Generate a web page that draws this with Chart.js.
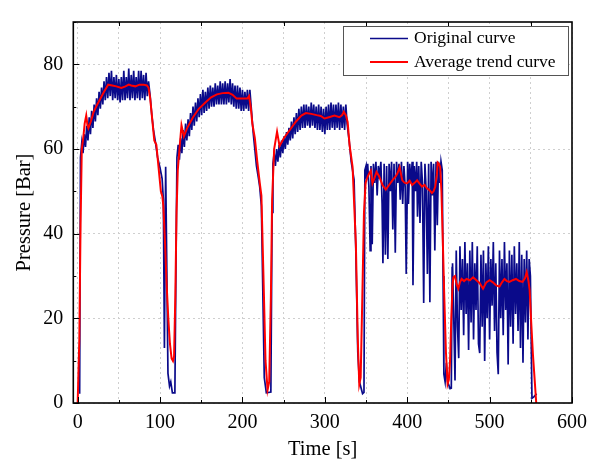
<!DOCTYPE html>
<html><head><meta charset="utf-8">
<script src="https://cdn.jsdelivr.net/npm/chart.js@4.4.0/dist/chart.umd.min.js"></script>
<style>html,body{margin:0;padding:0;background:#fff;}#wrap{width:595px;height:466px;}</style>
</head><body><div id="wrap"><canvas id="c" width="595" height="466"></canvas></div>
<script>
// ---- data (time [s], pressure [Bar]) ----
const origCycle1 = [[2.4,2.2],[3.4,58],[5,61.5],[6.5,59],[8,63.5],[9.5,60.5],[11,65.5],[12.5,62],[14,67.5],[15.5,63.5],[17,69],[18.5,65],[20,70.5],[21.5,66.5],[23,72],[24.5,68],[26,73.5],[27.5,69.5],[29,74.5],[30.5,70.5],[32,76],[33.5,71.5],[35,77],[36.5,72],[38,78],[39.5,72.5],[41,78.5],[42.5,71.5],[44,77],[45.5,72],[47,77.5],[48.5,71.5],[50,76.5],[51.5,71],[53,77],[54.5,71.5],[56,78.5],[57.5,71.5],[59,77],[60.5,72],[62,79],[63.5,71.5],[65,77.5],[66.5,72],[68,78.5],[69.5,71.5],[71,77],[72.5,72],[74,78.5],[75.5,71.5],[77,78.5],[78.5,72],[80,77.5],[81.5,71.5],[83,78],[84.5,72.5],[86,76],[88,72.5],[90,68],[92,64.5],[94.5,61.5],[97,58],[100,55.5],[102.5,53],[104,48],[105.3,13],[106.8,55.8],[108,35],[109.6,7],[111.5,4],[113,5],[115,2.4],[118,2.4],[119.2,30]];
const origCycle2 = [[120.5,58],[122,61],[123.5,57.5],[125,62.5],[126.5,59],[128,64.5],[129.5,60.5],[131,66],[132.5,62],[134,67],[135.5,63],[137,68.5],[138.5,64.5],[140,70],[141.5,65.5],[143,71],[144.5,66.5],[146,72],[147.5,67.5],[149,73],[150.5,68],[152,74],[153.5,68.5],[155,73.5],[156.5,69],[158,74.5],[159.5,69.5],[161,75],[162.5,70],[164,74.5],[165.5,70],[167,75.5],[168.5,70.5],[170,75],[171.5,70.5],[173,76],[174.5,70.5],[176,75.5],[177.5,70.5],[179,76],[180.5,70.5],[182,75.5],[183.5,71],[185,76.5],[186.5,70.5],[188,75.5],[189.5,70],[191,75],[192.5,69.5],[194,75],[195.5,69.5],[197,74.5],[198.5,69],[200,74],[201.5,69],[203,73.5],[204.5,69.5],[206,74],[207.5,69],[209,74],[211,69],[213,64],[215,60],[217,56],[219.5,53],[221,51],[223,46.5],[226.5,6],[229,2.4],[234.5,2.6],[236,45]];
const origCycle3 = [[237,56.5],[238.5,59],[240,56],[241.5,60],[243,57],[244.5,61],[246,58],[247.5,62],[249,59],[250.5,63],[252,60],[253.5,64],[255,61],[256.5,65],[258,62],[259.5,66.5],[261,62.5],[262.5,67.5],[264,63.5],[265.5,68.5],[267,64],[268.5,69.5],[270,64.5],[271.5,70],[273,65],[274.5,70.5],[276,65],[277.5,70.5],[279,65.5],[280.5,70],[282,65],[283.5,71],[285,65.5],[286.5,70.5],[288,65],[289.5,70],[291,64.5],[292.5,70.5],[294,64.5],[295.5,70],[297,64],[298.5,69.5],[300,63.5],[301.5,70],[303,64.5],[304.5,70.5],[306,64.5],[307.5,71],[309,65],[310.5,70.5],[312,64.5],[313.5,70.5],[315,65],[316.5,71],[318,64.5],[319.5,70.5],[321,65],[322.5,70],[324,64.5],[325.5,70.5],[327,66],[329.5,62],[332,57],[335.5,52.7],[337.5,37],[340,12],[342,5],[345.8,2.2],[347.5,2.5]];
const origCycle4 = [[348.6,55],[350,56],[350.5,53],[352,56.5],[353.5,51],[355,36],[356,56],[357.5,37.5],[359,56.5],[360.5,52],[362,57],[363.5,49],[365,56],[366.5,53],[368,57],[369.5,47],[370.5,33],[372,56.5],[373.5,35],[375,56],[376.5,34],[378,56.5],[379.5,50],[381,57],[382.5,41],[384,56.5],[385.5,35.5],[387,57],[388.5,52],[390,56.5],[391.5,48],[393,57],[394.5,47],[396,56],[397.5,51],[398.8,30.5],[400.5,57],[401.5,47],[403,56.5],[404.5,52],[406,57],[407,27.8],[408.5,56],[410,50],[411.5,57],[412.5,44],[414,56],[415.5,42.5],[417,57],[418.5,52],[420,23.6],[421.5,56.5],[423,50],[424.5,30.5],[426,56.5],[427.5,23.8],[429,57],[430.5,49],[432,56.5],[433.5,36],[435,57],[436.5,42],[438,57],[439.5,52],[441,57],[442.5,55],[443.5,30],[444.5,6.8],[446,5],[447.5,9.5],[449,5],[452,3.4],[453.5,3.5]];
const origCycle5 = [[454.5,32],[455,33],[456.5,20],[458,5.3],[459.5,36],[461,18],[462.5,10.6],[464,37],[465.5,22],[467,34],[468.5,16],[470,38],[471.5,21],[473,33],[474.5,12.5],[476,36],[477.5,19],[479,38],[480.5,15],[482,33],[483.5,22],[485,37],[486.5,14],[488,11.8],[489.5,35],[491,18],[492.5,36],[494,9.9],[495.5,33],[497,20],[498.5,37],[500,15],[501.5,34],[503,23],[504.5,38],[506,17],[507.5,33],[509,12],[510.5,6.8],[512,36],[513.5,20],[515,34],[516.5,16],[518,38],[519.5,22],[521,33],[522.5,9.1],[524,36],[525.5,18],[527,35],[528.5,14],[530,37],[531.5,21],[533,33],[534.5,17],[536,38],[537.5,13],[539,35],[540.5,9.5],[542,34],[543.5,19],[545,36],[546.5,15],[548,34],[549.5,30],[551.4,1.1],[554,1.5],[557,2.2]];

const trendCycle1 = [[0,0],[2,15],[3.5,42],[5,60],[7,63],[8.5,66],[10.4,67.9],[12,65.5],[13,64.9],[16,66.5],[19.3,68.7],[23,70.2],[27,71.7],[32,73.5],[37,75.2],[42,75],[47,74.8],[53,74.4],[58,74.8],[62,75.2],[65,75],[70,74.8],[75,75.2],[80,75.2],[84,75],[86,74.5],[88,72],[90.5,67],[93,62],[95.5,61],[98,56],[101,50],[102.8,48.8],[104,46.5],[106,38],[108,28],[110,20],[112,14],[114,10.5],[115.7,9.9],[117,11],[118.5,25],[120,45],[121.5,55]];
const trendCycle2 = [[123.7,60.3],[126,65.6],[128.9,63],[133,65],[140,67.5],[147,69.5],[155,71],[162,72.2],[169,72.9],[176,73.2],[183,73.3],[188,72.8],[193,71.9],[200,71.9],[206,71.9],[208,72.5],[210,70],[212,66],[215,62.6],[218,57],[221,52],[223,49],[225.5,30],[228,10],[230.5,3.1],[232.5,5],[234.5,25],[236,48]];
const trendCycle3 = [[238.5,60],[242,64.1],[245,60.7],[250,62.5],[259,64.9],[265,66.5],[271.5,67.9],[277,68.5],[283.5,68.3],[290,68],[295,67.8],[299.6,67.2],[305,67.5],[311.7,67.9],[317.7,67.5],[321,68],[323,68.8],[325.5,68],[327.7,66.4],[330,61],[333.7,55.7],[337.7,37.4],[340,15],[341.8,4.4],[343.5,6],[345.5,25],[347.5,45]];
const trendCycle4 = [[349.5,52],[352,53.5],[353.8,54.2],[355.8,54.9],[357.8,51.9],[360,53],[362.7,54.6],[366,53.5],[370,51.5],[374,50.4],[378,51.5],[382,52.6],[386,53.5],[388,54.2],[390.8,55.7],[394,52.6],[397,52],[400,51.9],[403,52.5],[406,51.5],[409,52],[412,52.6],[415,51.8],[418,51.1],[421,51.5],[424,50.7],[427,50.3],[430,49.6],[432,50],[434,51.1],[436,54],[437,56.8],[438.5,56.5],[440,55.7],[441.5,50],[443,39.7],[445,25],[447,12],[449,4.5],[450.5,5.5],[452,10],[453.5,20]];
const trendCycle5 = [[455,28],[456,29.7],[458,30],[460,28],[462,27],[464,28.5],[466,29.3],[469,28.8],[472,29.3],[476,29],[480,29.7],[484,29],[488,28.3],[492,27],[496,28.5],[500,29],[504,28.5],[508,27.8],[512,27.5],[515,28.5],[518,29.3],[521,28.8],[524,28.6],[528,29],[532,29.3],[536,28.8],[540,28.6],[543,29.5],[545,30.9],[547,29],[548.6,26.7],[550.5,19],[552.6,11.4],[554.5,6],[556.6,0]];

const seriesNames = ['Original curve', 'Average trend curve'];
const xGridValues = [0,50,100,150,200,250,300,350,400,450,500,550,600];
const xTickLabels = {0:'0',100:'100',200:'200',300:'300',400:'400',500:'500',600:'600'};
const yGridValues = [0,20,40,60,80];
const yTickLabels = {0:'0',20:'20',40:'40',60:'60',80:'80'};
const xTitle = 'Time [s]';
const yTitle = 'Pressure [Bar]';

// ---- build datasets ----
const toXY = segs => segs.flat().map(p => ({x: p[0], y: p[1]}));
const origData = toXY([origCycle1, origCycle2, origCycle3, origCycle4, origCycle5]);
const trendData = toXY([trendCycle1, trendCycle2, trendCycle3, trendCycle4, trendCycle5]);

const BLUE = '#0a0a8a';
const RED = '#ff0000';
const FONT = "'Liberation Serif', 'Times New Roman', serif";

const decor = {
  id: 'decor',
  afterDraw(chart) {
    const {ctx, chartArea: a, scales: {x, y}} = chart;
    ctx.save();
    ctx.strokeStyle = '#000';
    ctx.lineWidth = 1;
    ctx.beginPath();
    [0,50,100,150,200,250,300,350,400,450,500,550,600].forEach(v => {
      const px = Math.round(x.getPixelForValue(v)) + 0.5;
      const len = (v % 100 === 0) ? 6 : 3;
      ctx.moveTo(px, a.bottom); ctx.lineTo(px, a.bottom - len);
    });
    [50,150,250,350,450,550].forEach(v => {
      const px = Math.round(x.getPixelForValue(v)) + 0.5;
      ctx.moveTo(px, a.top); ctx.lineTo(px, a.top + 4);
    });
    [0,10,20,30,40,50,60,70,80,90].forEach(v => {
      const py = Math.round(y.getPixelForValue(v)) + 0.5;
      const len = (v % 20 === 0) ? 6 : 3;
      ctx.moveTo(a.left, py); ctx.lineTo(a.left + len, py);
    });
    ctx.stroke();
    ctx.lineWidth = 1.6;
    ctx.strokeRect(a.left, a.top, a.right - a.left, a.bottom - a.top);

    // legend
    const bx = 343, by = 26, bw = 225, bh = 49;
    ctx.fillStyle = '#fff';
    ctx.fillRect(bx, by, bw, bh);
    ctx.lineWidth = 1;
    ctx.strokeStyle = '#555';
    ctx.strokeRect(bx + 0.5, by + 0.5, bw, bh);
    const rows = [[seriesNames[0], BLUE, 1.5, 38.5], [seriesNames[1], RED, 2, 62]];
    ctx.font = '17.5px ' + FONT;
    ctx.textBaseline = 'middle';
    ctx.textAlign = 'left';
    rows.forEach(r => {
      ctx.strokeStyle = r[1]; ctx.lineWidth = r[2];
      ctx.beginPath(); ctx.moveTo(370, r[3]); ctx.lineTo(408, r[3]); ctx.stroke();
      ctx.fillStyle = '#000';
      ctx.fillText(r[0], 414, r[3]);
    });
    ctx.restore();
  }
};

new Chart(document.getElementById('c'), {
  type: 'line',
  data: {
    datasets: [
      {label: seriesNames[0], data: origData, borderColor: BLUE, borderWidth: 1.7, pointRadius: 0, tension: 0, fill: false, order: 2},
      {label: seriesNames[1], data: trendData, borderColor: RED, borderWidth: 2, pointRadius: 0, tension: 0, fill: false, order: 1}
    ]
  },
  options: {
    responsive: false,
    devicePixelRatio: 1,
    animation: false,
    events: [],
    layout: {padding: {top: 10, right: 19, left: 0, bottom: 0}},
    plugins: {legend: {display: false}, tooltip: {enabled: false}},
    scales: {
      x: {
        type: 'linear', min: -5.3, max: 600,
        afterBuildTicks: s => { s.ticks = xGridValues.map(v => ({value: v})); },
        afterFit: s => { s.height = 63; },
        ticks: {autoSkip: false, maxRotation: 0, padding: 8, color: '#000',
          font: {family: FONT, size: 20},
          callback: v => (xTickLabels[v] !== undefined ? xTickLabels[v] : '')},
        grid: {color: '#cfcfcf', lineWidth: 1, drawTicks: false},
        border: {display: false, dash: [2, 3]},
        title: {display: true, text: xTitle, color: '#000', font: {family: FONT, size: 20.5}, padding: {top: 0, bottom: 4}}
      },
      y: {
        type: 'linear', min: 0, max: 90,
        afterBuildTicks: s => { s.ticks = yGridValues.map(v => ({value: v})); },
        afterFit: s => { s.width = 73.3; },
        ticks: {autoSkip: false, padding: 10, color: '#000',
          font: {family: FONT, size: 20},
          callback: v => (yTickLabels[v] !== undefined ? yTickLabels[v] : '')},
        grid: {color: '#cfcfcf', lineWidth: 1, drawTicks: false},
        border: {display: false, dash: [2, 3]},
        title: {display: true, text: yTitle, color: '#000', font: {family: FONT, size: 20.5}, padding: {top: 12, bottom: 0}}
      }
    }
  },
  plugins: [decor]
});
</script></body></html>
